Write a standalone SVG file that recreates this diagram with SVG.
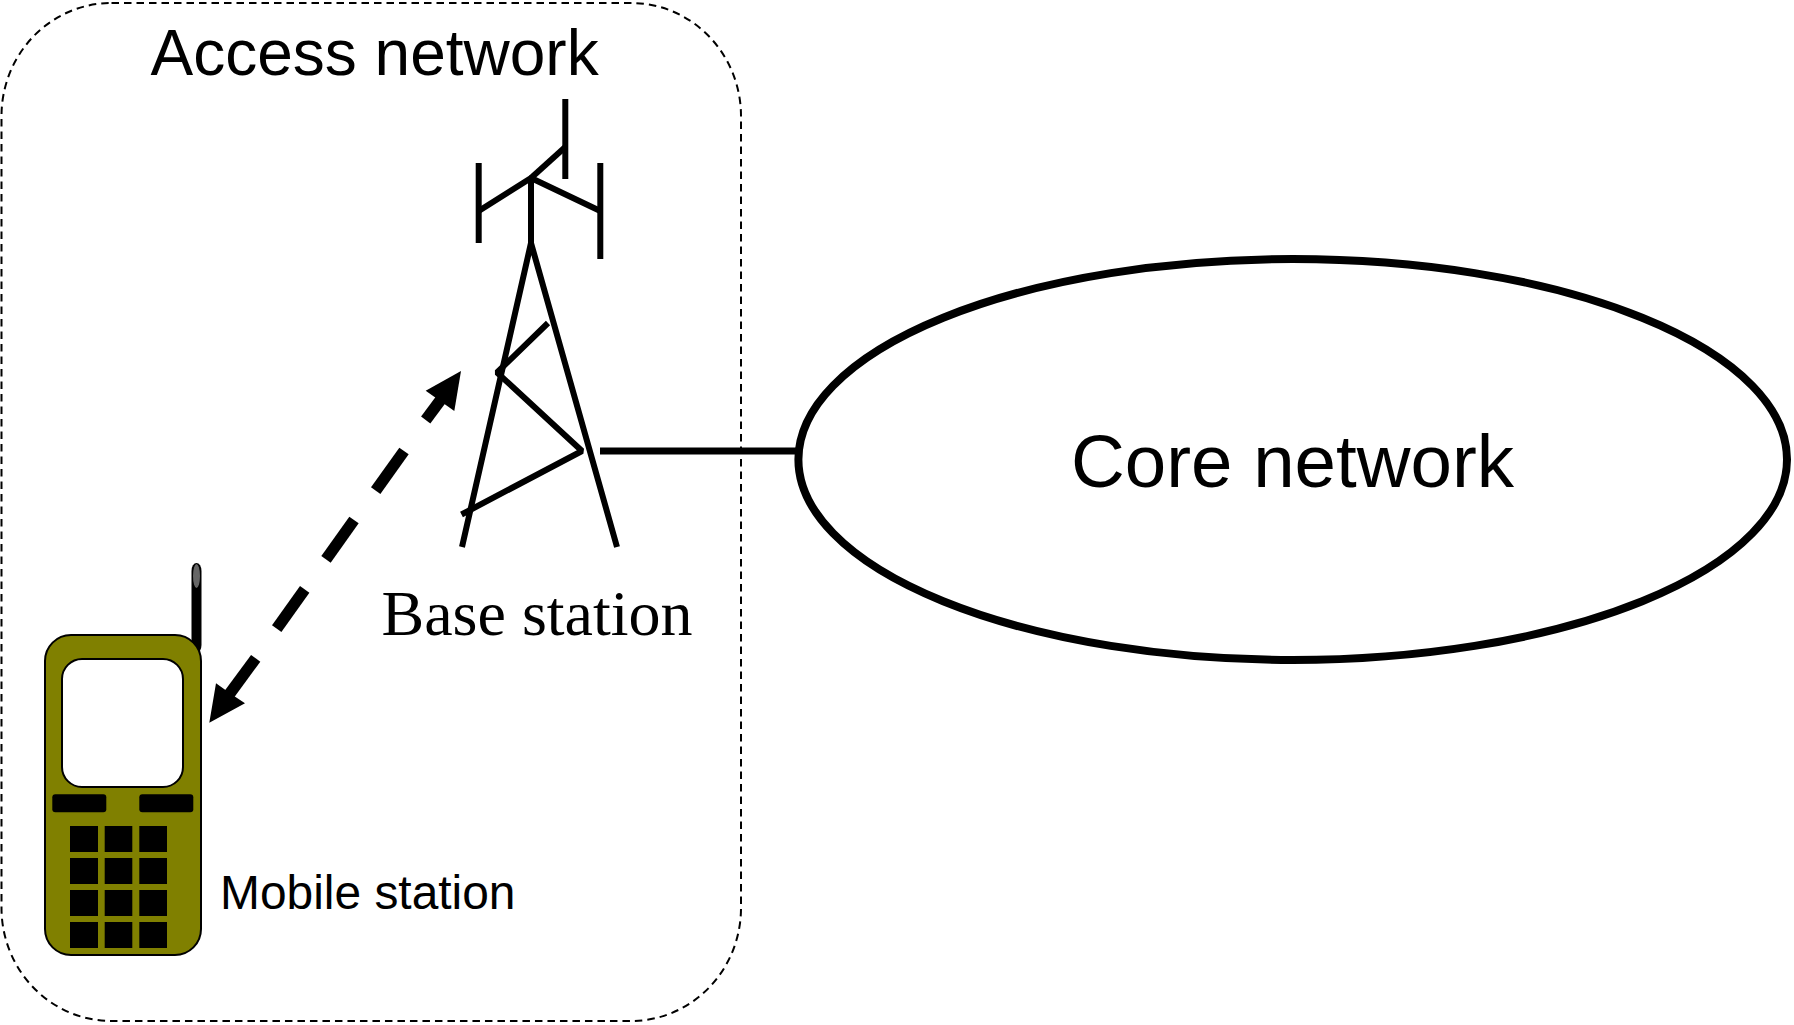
<svg xmlns="http://www.w3.org/2000/svg" width="1794" height="1025" viewBox="0 0 1794 1025">
  <style>
    .sans { font-family: "Liberation Sans", Arial, sans-serif; fill: #000; }
    .serif { font-family: "Liberation Serif", "Times New Roman", serif; fill: #000; }
    .tower { stroke: #000; stroke-width: 6; fill: none; stroke-linecap: butt; stroke-linejoin: bevel; }
    .arrow { stroke: #000; stroke-width: 11.5; fill: none; }
    .key { fill: #000; }
  </style>
  <rect width="1794" height="1025" fill="#fff"/>
  <g id="access-network">
    <rect x="1.5" y="3" width="739.5" height="1018" rx="110" ry="113" fill="none" stroke="#000" stroke-width="2" stroke-dasharray="7.5 5"/>
    <text class="sans" x="150.5" y="75" font-size="64">Access network</text>
  </g>
  <g id="connectors">
    <line x1="600" y1="451" x2="798" y2="451" stroke="#000" stroke-width="7"/>
    <g id="radio-link">
      <line class="arrow" x1="425.7" y1="420" x2="445" y2="394"/>
      <line class="arrow" x1="404" y1="451" x2="375.7" y2="490.7"/>
      <line class="arrow" x1="354" y1="520" x2="326" y2="559.3"/>
      <line class="arrow" x1="304.7" y1="589.3" x2="276.7" y2="628.7"/>
      <line class="arrow" x1="255.7" y1="658.3" x2="228" y2="696"/>
      <polygon points="461,371 425.7,390.7 439.5,400.5 454.3,411"/>
      <polygon points="209.3,722.7 216,683.3 231,694 245,703.3"/>
    </g>
  </g>
  <g id="core-network">
    <ellipse cx="1292.7" cy="459.5" rx="494.3" ry="200.5" fill="#fff" stroke="#000" stroke-width="8"/>
    <text class="sans" x="1071" y="487" font-size="74.5">Core network</text>
  </g>
  <g id="base-station">
    <g class="tower">
      <line x1="565.3" y1="99" x2="565.3" y2="179"/>
      <line x1="531" y1="178" x2="531" y2="243"/>
      <line x1="478.7" y1="163" x2="478.7" y2="243"/>
      <line x1="600.3" y1="163" x2="600.3" y2="259"/>
      <polyline points="478.7,211 531,178 600.3,211"/>
      <line x1="531" y1="178" x2="565.3" y2="147"/>
      <polyline points="462,547 531,243 617,547"/>
      <polyline points="548,323 497,372.5 582,451 461.5,514.5"/>
    </g>
    <text class="serif" x="381.5" y="634.5" font-size="64">Base station</text>
  </g>
  <g id="mobile-station">
    <rect x="191.5" y="563" width="10" height="90" rx="5" ry="8" fill="#000"/>
    <ellipse cx="196.5" cy="576" rx="3.5" ry="12" fill="#666"/>
    <rect x="45" y="635" width="156" height="320" rx="26" ry="26" fill="#808000" stroke="#000" stroke-width="2"/>
    <rect x="62" y="659" width="121" height="128" rx="20" ry="20" fill="#fff" stroke="#000" stroke-width="2"/>
    <rect class="key" x="52.3" y="794.3" width="54" height="18" rx="3"/>
    <rect class="key" x="139.3" y="794.3" width="54" height="18" rx="3"/>
    <rect class="key" x="70" y="826" width="28" height="26"/>
    <rect class="key" x="104.7" y="826" width="27.6" height="26"/>
    <rect class="key" x="139.3" y="826" width="27.7" height="26"/>
    <rect class="key" x="70" y="858" width="28" height="26"/>
    <rect class="key" x="104.7" y="858" width="27.6" height="26"/>
    <rect class="key" x="139.3" y="858" width="27.7" height="26"/>
    <rect class="key" x="70" y="890" width="28" height="26"/>
    <rect class="key" x="104.7" y="890" width="27.6" height="26"/>
    <rect class="key" x="139.3" y="890" width="27.7" height="26"/>
    <rect class="key" x="70" y="922" width="28" height="26"/>
    <rect class="key" x="104.7" y="922" width="27.6" height="26"/>
    <rect class="key" x="139.3" y="922" width="27.7" height="26"/>
    <text class="sans" x="220" y="909" font-size="47.9">Mobile station</text>
  </g>
</svg>
